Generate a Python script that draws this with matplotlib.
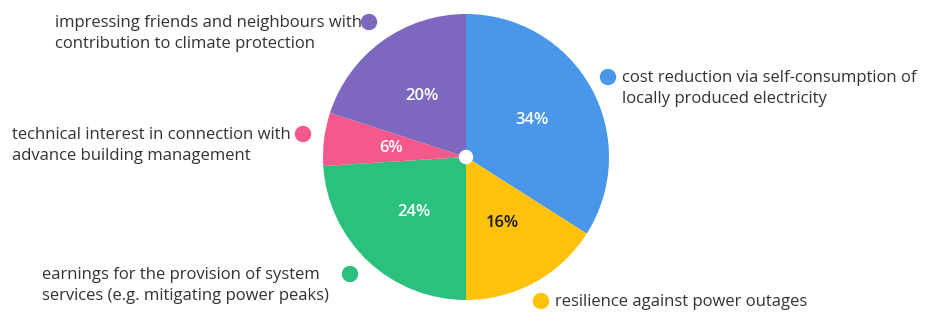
import matplotlib
matplotlib.use("Agg")
import matplotlib.pyplot as plt
from matplotlib.patches import Circle

# motivations, clockwise from 12 o'clock
shares = [34, 16, 24, 6, 20]
labels = [
    "cost reduction via self-consumption of\nlocally produced electricity",
    "resilience against power outages",
    "earnings for the provision of system\nservices (e.g. mitigating power peaks)",
    "technical interest in connection with\nadvance building management",
    "impressing friends and neighbours with\ncontribution to climate protection",
]
colors = ["#4A97EA", "#FEC20C", "#2BC07E", "#F5588A", "#7E68BF"]
pct_colors = ["white", "#1a1a1a", "white", "white", "white"]

W, H = 930, 313
plt.rcParams["font.family"] = ["Open Sans", "DejaVu Sans"]
fig = plt.figure(figsize=(W / 100, H / 100), dpi=100)
ax = fig.add_axes([0, 0, 1, 1])

cx, cy, r = 466, H - 157, 143
wedges, _, autotexts = ax.pie(
    shares, colors=colors, startangle=90, counterclock=False,
    center=(cx, cy), radius=r, autopct="%d%%", pctdistance=0.53,
    textprops=dict(fontsize=12, fontweight="semibold"), frame=True)
ax.set_xlim(0, W); ax.set_ylim(0, H); ax.set_aspect("equal"); ax.axis("off")
for t, c in zip(autotexts, pct_colors):
    t.set_color(c)
ax.add_patch(Circle((cx, cy), 6.5, color="white", zorder=5))

# legend-like annotations: (dot x, dot y, text x, first line y) in pixels from top-left
spots = [
    (608, 77, 622, 77),
    (541, 301, 555, 301),
    (350, 274, 42, 274),
    (303, 134, 12, 134),
    (369, 22, 55, 22),
]
for (dx, dy, tx, ty), lab, col in zip(spots, labels, colors):
    ax.add_patch(Circle((dx, H - dy), 7.5, color=col, zorder=4))
    ax.text(tx, H - ty + 7, lab, fontsize=12, color="#333333", ha="left", va="top",
            linespacing=1.38)

fig.savefig("out.png", dpi=100)
